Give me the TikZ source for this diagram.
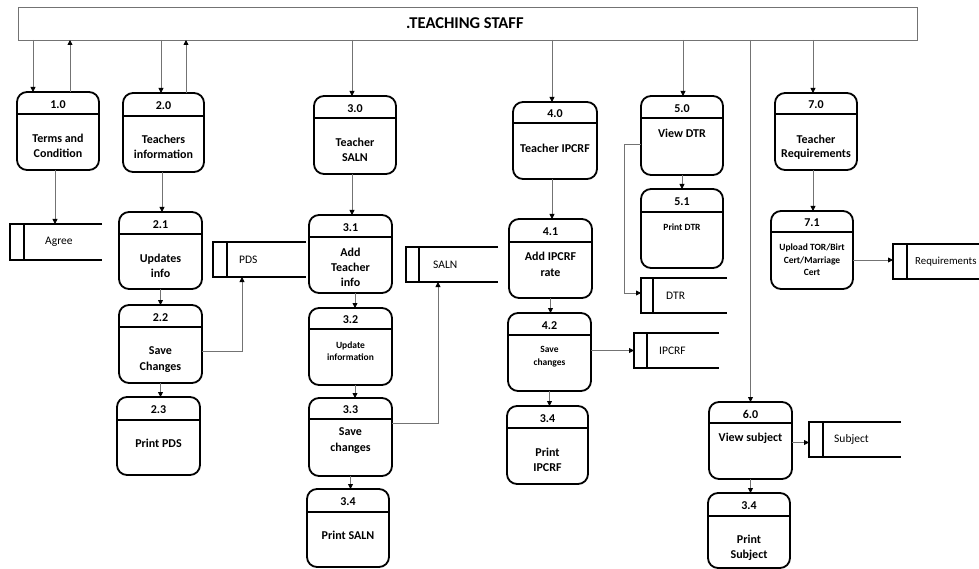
\documentclass[tikz,border=0pt]{standalone}
\usepackage{fontspec}
\setmainfont{Carlito}
\usetikzlibrary{arrows.meta}

% process box: name, left, top, width, height, header depth, number
\newcommand\dfdproc[7]{%
  \node[proc, minimum width=#4, minimum height=#5] (#1) at (#2,#3) {};
  \draw[hdr] ([yshift=-#6]#1.north west) -- ([yshift=-#6]#1.north east);
  \node[pid] (#1-id) at ([yshift={-0.5*#6-1.5}]#1.north) {#7};
}
% data store: name, left, top, width, height, inner bar offset
\newcommand\dfdstore[6]{%
  \node[store, minimum width=#4, minimum height=#5] (#1) at (#2,#3) {};
  \draw[storeline] (#1.north east) -- (#1.north west) -- (#1.south west) -- (#1.south east);
  \draw[storeline] ([xshift=#6]#1.north west) -- ([xshift=#6]#1.south west);
}

\begin{document}
\begin{tikzpicture}[x=1pt,y=-1pt,
  proc/.style={draw=black, line width=1.8pt, rounded corners=10pt, outer sep=0pt, inner sep=0pt, anchor=north west},
  hdr/.style={line width=1.8pt},
  pid/.style={font=\bfseries\fontsize{12}{14}\selectfont, inner sep=0pt},
  ptxt/.style={font=\bfseries\fontsize{12}{15.5}\selectfont, align=center, inner sep=0pt},
  psmall/.style={font=\bfseries\fontsize{9.5}{12.5}\selectfont, align=center, inner sep=0pt},
  store/.style={inner sep=0pt, outer sep=0pt, anchor=north west},
  storeline/.style={line width=1.8pt},
  stxt/.style={font=\fontsize{11.5}{13}\selectfont, anchor=west, inner sep=0pt},
  flow/.style={draw=black!55, line width=0.8pt, -{Triangle[length=5pt,width=5pt,color=black]}},
  link/.style={draw=black!55, line width=0.8pt}
]
\useasboundingbox (0,0) rectangle (979,569);

% external entity bar
\node[draw=black!55, line width=0.8pt, minimum width=899, minimum height=33,
      anchor=north west, inner sep=0pt, outer sep=0pt] (bar) at (18,7) {};
\node[font=\bfseries\fontsize{16.5}{19}\selectfont, anchor=west, inner sep=0pt] (title) at (406,23) {.TEACHING STAFF};

% processes
\dfdproc{p10}{17}{92}{82}{78}{22}{1.0}
\node[ptxt] (p10-t) at (58,146) {Terms and\\Condition};
\dfdproc{p20}{123}{93}{81}{79}{23}{2.0}
\node[ptxt] (p20-t) at (163.5,147) {Teachers\\information};
\dfdproc{p21}{119}{212}{83}{77}{22}{2.1}
\node[ptxt] (p21-t) at (160.5,266) {Updates\\info};
\dfdproc{p22}{119}{305}{83}{78}{22}{2.2}
\node[ptxt] (p22-t) at (160.5,359.5) {Save\\Changes};
\dfdproc{p23}{117}{397}{83}{78}{23}{2.3}
\node[ptxt] (p23-t) at (158.5,443) {Print PDS};

\dfdproc{p30}{314}{96}{82}{78}{22}{3.0}
\node[ptxt] (p30-t) at (355,150) {Teacher\\SALN};
\dfdproc{p31}{309}{215}{83}{78}{22}{3.1}
\node[ptxt, font=\bfseries\fontsize{12}{15}\selectfont] (p31-t) at (350.5,267) {Add\\Teacher\\info};
\dfdproc{p32}{309}{308}{83}{77}{21}{3.2}
\node[psmall] (p32-t) at (350.5,351) {Update\\information};
\dfdproc{p33}{309}{398}{83}{78}{21}{3.3}
\node[ptxt] (p33-t) at (350.5,440.5) {Save\\changes};
\dfdproc{p34}{307}{489}{82}{78}{23}{3.4}
\node[ptxt] (p34-t) at (348,535) {Print SALN};

\dfdproc{p40}{513}{102}{84}{77}{21}{4.0}
\node[ptxt] (p40-t) at (555,148) {Teacher IPCRF};
\dfdproc{p41}{509}{219}{83}{79}{23}{4.1}
\node[ptxt] (p41-t) at (550.5,264.5) {Add IPCRF\\rate};
\dfdproc{p42}{508}{313}{83}{78}{22}{4.2}
\node[psmall] (p42-t) at (549.5,356.5) {Save\\changes};
\dfdproc{p43}{507}{406}{81}{78}{22}{3.4}
\node[ptxt] (p43-t) at (547.5,460) {Print\\IPCRF};

\dfdproc{p50}{641}{96}{82}{79}{22}{5.0}
\node[ptxt] (p50-t) at (682,133) {View DTR};
\dfdproc{p51}{641}{189}{82}{79}{23}{5.1}
\node[psmall] (p51-t) at (682,227) {Print DTR};

\dfdproc{p60}{709}{402}{83}{77}{21}{6.0}
\node[ptxt] (p60-t) at (750.5,438) {View subject};
\dfdproc{p61}{708}{493}{82}{75}{23}{3.4}
\node[ptxt] (p61-t) at (749,548) {Print\\Subject};

\dfdproc{p70}{775}{93}{82}{77}{21}{7.0}
\node[ptxt, font=\bfseries\fontsize{12}{14.5}\selectfont] (p70-t) at (816,147) {Teacher\\Requirements};
\dfdproc{p71}{771}{211}{82}{78}{21}{7.1}
\node[psmall] (p71-t) at (812,260) {Upload TOR/Birt\\Cert/Marriage\\Cert};

% data stores
\dfdstore{agree}{10}{224}{92}{36}{14}
\node[stxt] (agree-t) at ([xshift=35]agree.west) {Agree};
\dfdstore{pds}{213}{242}{93}{35}{14}
\node[stxt] (pds-t) at ([xshift=26]pds.west) {PDS};
\dfdstore{saln}{406}{247}{92}{35}{13}
\node[stxt] (saln-t) at ([xshift=27]saln.west) {SALN};
\dfdstore{dtr}{641}{278}{86}{35}{12}
\node[stxt] (dtr-t) at ([xshift=25]dtr.west) {DTR};
\dfdstore{ipcrf}{634}{333}{85}{35}{13}
\node[stxt] (ipcrf-t) at ([xshift=25]ipcrf.west) {IPCRF};
\dfdstore{subject}{809}{422}{92}{35}{14}
\node[stxt] (subject-t) at ([xshift=25]subject.west) {Subject};
\dfdstore{req}{893}{244}{87}{35}{14}
\node[stxt, font=\fontsize{10.8}{13}\selectfont] (req-t) at ([xshift=22]req.west) {Requirements};

% flows between the staff and the top-level processes
\draw[flow] ([xshift=-25]p10.north |- bar.south) -- ([xshift=-25]p10.north);
\draw[flow] ([xshift=12]p10.north) -- ([xshift=12]p10.north |- bar.south);
\draw[flow] ([xshift=-2.5]p20.north |- bar.south) -- ([xshift=-2.5]p20.north);
\draw[flow] ([xshift=22.5]p20.north) -- ([xshift=22.5]p20.north |- bar.south);
\draw[flow] ([xshift=-3]p30.north |- bar.south) -- ([xshift=-3]p30.north);
\draw[flow] ([xshift=-3]p40.north |- bar.south) -- ([xshift=-3]p40.north);
\draw[flow] ([xshift=1]p50.north |- bar.south) -- ([xshift=1]p50.north);
\draw[flow] (p60.north |- bar.south) -- (p60.north);
\draw[flow] ([xshift=-3]p70.north |- bar.south) -- ([xshift=-3]p70.north);

% flows inside each column
\draw[flow] ([xshift=-3]p10.south) -- ([xshift=-3]p10.south |- agree.north);

\draw[flow] ([xshift=-1.5]p20.south) -- ([xshift=-1.5]p20.south |- p21.north);
\draw[flow] (p21.south) -- (p21.south |- p22.north);
\draw[flow] (p22.south) -- (p22.south |- p23.north);
\draw[flow] ([yshift=-7]p22.east) -| ([xshift=29]pds.south west);

\draw[flow] ([xshift=-3]p30.south) -- ([xshift=-3]p30.south |- p31.north);
\draw[flow] ([xshift=4.5]p31.south) -- ([xshift=4.5]p31.south |- p32.north);
\draw[flow] ([xshift=4.5]p32.south) -- ([xshift=4.5]p32.south |- p33.north);
\draw[flow] (p33.south) -- (p33.south |- p34.north);
\draw[flow] ([yshift=14]p33.east) -| ([xshift=32]saln.south west);

\draw[flow] ([xshift=-3]p40.south) -- ([xshift=-3]p40.south |- p41.north);
\draw[flow] (p41.south) -- (p41.south |- p42.north);
\draw[flow] (p42.south) -- (p42.south |- p43.north);
\draw[flow] (p42.east |- ipcrf.west) -- (ipcrf.west);

\draw[flow] (p50.south) -- (p50.south |- p51.north);
\draw[flow] ([yshift=-8.5]p50.west) -- ++(-17,0) |- ([yshift=2.5]dtr.west);

\draw[flow] ([yshift=-3]subject.west -| p60.east) -- ([yshift=-3]subject.west);
\draw[flow] (p60.south) -- (p60.south |- p61.north);

\draw[flow] ([xshift=-3]p70.south) -- ([xshift=-3]p70.south |- p71.north);
\draw[flow] ([yshift=1.5]req.west -| p71.east) -- ([yshift=1.5]req.west);
\end{tikzpicture}
\end{document}
